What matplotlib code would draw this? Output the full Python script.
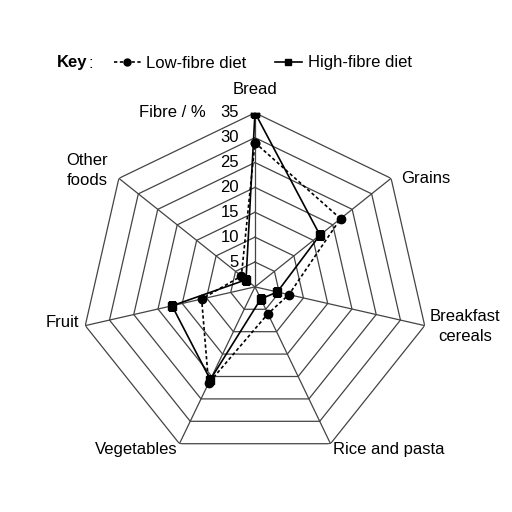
import numpy as np
import matplotlib
matplotlib.use('Agg')
import matplotlib.pyplot as plt
from matplotlib.lines import Line2D

plt.rcParams['font.family'] = ['Liberation Sans', 'DejaVu Sans']

categories = ['Bread', 'Grains', 'Breakfast\ncereals', 'Rice and pasta',
              'Vegetables', 'Fruit', 'Other\nfoods']
low_fibre = [29, 22, 7, 6, 21.5, 11, 3.5]
high_fibre = [35, 16.7, 4.6, 2.7, 20.7, 17.1, 2.3]
ring_values = [5, 10, 15, 20, 25, 30, 35]

# label offsets in pixels from each outer vertex, and alignment
label_pos = [((0, 23), 'center'), ((10, 0), 'left'), ((5, -1), 'left'),
             ((2, -6), 'left'), ((-2, -6), 'right'), ((-6, 3), 'right'),
             ((-11, 8), 'right')]

grid_color = '#444444'


def closed(values):
    return list(values) + [values[0]]


fig = plt.figure(figsize=(5.12, 5.12), dpi=100)
ax = fig.add_axes([0.158, 0.0997, 0.680, 0.680], projection='polar')
ax.set_theta_zero_location('N')
ax.set_theta_direction(-1)
ax.set_ylim(0, 35)
ax.set_xticks([])
ax.set_yticks([])
ax.grid(False)
ax.spines['polar'].set_visible(False)

angles = np.linspace(0, 2 * np.pi, len(categories), endpoint=False)
angles_closed = closed(angles)

# heptagon grid
for r in ring_values:
    ax.plot(angles_closed, [r] * len(angles_closed), color=grid_color, lw=0.9, zorder=1)
for a in angles:
    ax.plot([a, a], [0, ring_values[-1]], color=grid_color, lw=0.9, zorder=1)

# data
ax.plot(angles_closed, closed(low_fibre), color='black', lw=1.2,
        linestyle=(0, (2, 1.5)), marker='o', markersize=6, zorder=3)
ax.plot(angles_closed, closed(high_fibre), color='black', lw=1.2,
        marker='s', markersize=6, zorder=4)

# scale labels on the Bread axis
for r in ring_values:
    ax.annotate(str(r), xy=(0, r), xytext=(-16, 0), textcoords='offset pixels',
                ha='right', va='center', fontsize=12, zorder=5)
ax.annotate('Fibre / %', xy=(0, 35), xytext=(-49, 0), textcoords='offset pixels',
            ha='right', va='center', fontsize=12)

# category labels
for a, name, (off, ha) in zip(angles, categories, label_pos):
    ax.annotate(name, xy=(a, 35), xytext=off, textcoords='offset pixels',
                ha=ha, va='center', multialignment='center', fontsize=12,
                linespacing=1.4, annotation_clip=False)

# key
fig.text(57 / 512, 1 - 63 / 512, 'Key', fontsize=12, fontweight='bold',
         ha='left', va='center')
fig.text(89 / 512, 1 - 63 / 512, ':', fontsize=12, ha='left', va='center')
handles = [Line2D([], [], color='black', lw=1.2, linestyle=(0, (2, 1.5)),
                  marker='o', markersize=5),
           Line2D([], [], color='black', lw=1.2, marker='s', markersize=5)]
fig.legend(handles, ['Low-fibre diet', 'High-fibre diet'], loc='center left',
           bbox_to_anchor=(114 / 512, 1 - 63 / 512), ncol=2, frameon=False,
           fontsize=12, handlelength=1.6, handletextpad=0.35,
           columnspacing=1.7, borderaxespad=0, borderpad=0)

fig.savefig('out.png', dpi=100)
